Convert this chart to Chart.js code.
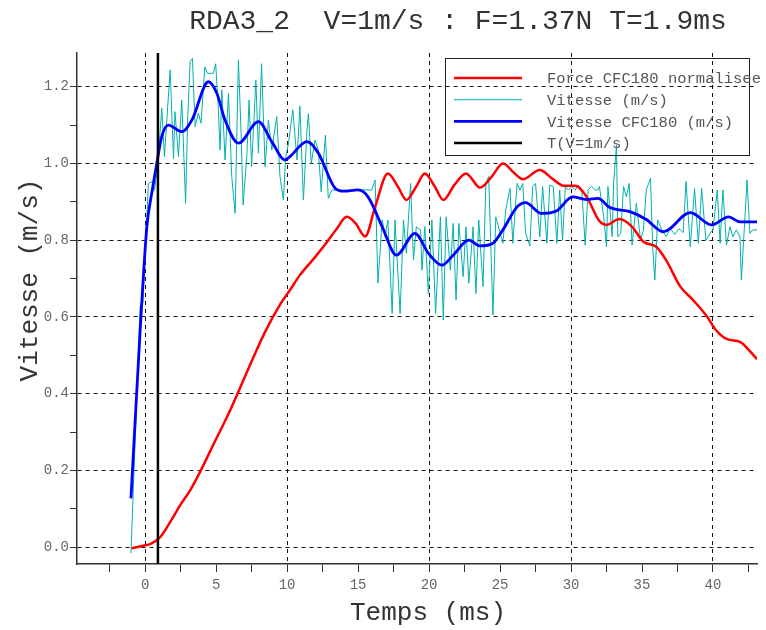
<!DOCTYPE html>
<html>
<head>
<meta charset="utf-8">
<title>RDA3_2</title>
<script src="https://cdn.jsdelivr.net/npm/chart.js@4"></script>
<style>
  body { margin: 0; background: #fff; }
  canvas { display: block; }
</style>
</head>
<body>
<canvas id="vitesseChart" width="766" height="630"></canvas>
<script>
const titleText = 'RDA3_2  V=1m/s : F=1.37N T=1.9ms';
const xTitle = 'Temps (ms)';
const yTitle = 'Vitesse (m/s)';
const seriesLabels = ['Force CFC180 normalisee', 'Vitesse (m/s)', 'Vitesse CFC180 (m/s)', 'T(V=1m/s)'];

const forceT = [-0.95, 0, 0.35, 1.06, 1.76, 2.46, 3.17, 3.87, 4.79, 5.99, 7.39, 8.45, 9.5, 10.2, 10.9, 11.97, 12.7, 13.5, 14.2, 14.8, 15.5, 16.2, 17.1, 17.8, 18.4, 19.1, 19.7, 20.4, 21.0, 21.8, 22.6, 23.6, 24.4, 25.2, 26.0, 26.6, 27.8, 28.7, 29.5, 30.3, 31.1, 32.0, 32.5, 33.4, 34.3, 35.1, 36.0, 36.7, 37.7, 38.6, 39.6, 40.2, 41.0, 41.9, 42.5, 43.1];
const forceV = [-0.003, 0.005, 0.008, 0.026, 0.065, 0.109, 0.148, 0.196, 0.266, 0.357, 0.475, 0.561, 0.632, 0.67, 0.709, 0.756, 0.79, 0.83, 0.861, 0.845, 0.81, 0.887, 0.974, 0.94, 0.905, 0.94, 0.974, 0.94, 0.905, 0.945, 0.974, 0.937, 0.965, 1.0, 0.975, 0.959, 0.983, 0.96, 0.942, 0.942, 0.913, 0.85, 0.84, 0.855, 0.835, 0.796, 0.783, 0.748, 0.679, 0.644, 0.6, 0.566, 0.542, 0.535, 0.515, 0.49];

const rawT = [-1.0, -0.35, -0.16, 0.23, 0.47, 0.66, 0.9, 1.17, 1.36, 1.76, 2.0, 2.1, 2.35, 2.58, 2.85, 3.0, 3.17, 3.33, 3.52, 3.75, 3.94, 4.2, 4.4, 4.8, 4.97, 5.16, 5.28, 5.4, 5.63, 5.87, 6.1, 6.34, 6.57, 6.76, 6.9, 7.16, 7.32, 7.5, 7.8, 7.98, 8.2, 8.45, 8.68, 8.92, 9.27, 9.5, 9.74, 9.9, 10.1, 10.4, 10.7, 10.9, 11.15, 11.4, 11.5, 11.7, 11.97, 12.2, 12.4, 12.7, 12.9, 13.15, 14.0, 15.0, 15.96, 16.2, 16.4, 16.7, 16.9, 17.1, 17.4, 17.6, 17.96, 18.2, 18.4, 18.7, 18.9, 19.1, 19.4, 19.5, 19.7, 19.95, 20.2, 20.46, 20.8, 21.0, 21.2, 21.5, 21.7, 21.9, 22.1, 22.4, 22.6, 22.8, 23.1, 23.3, 23.5, 23.8, 24.0, 24.2, 24.5, 24.7, 24.95, 25.2, 25.4, 25.7, 25.9, 26.2, 26.4, 26.6, 26.8, 27.1, 27.3, 27.5, 27.8, 28.0, 28.3, 28.5, 28.75, 29.0, 29.2, 29.4, 29.6, 29.8, 30.05, 30.3, 30.5, 30.75, 31.0, 31.2, 31.45, 31.7, 31.9, 32.0, 32.3, 32.5, 32.6, 32.9, 33.0, 33.2, 33.3, 33.5, 33.7, 33.9, 34.1, 34.3, 34.6, 34.9, 35.1, 35.3, 35.6, 35.75, 35.9, 36.1, 36.4, 36.7, 37.0, 37.3, 37.6, 37.9, 38.1, 38.4, 38.7, 38.97, 39.2, 39.5, 39.8, 40.0, 40.3, 40.5, 40.7, 40.95, 41.2, 41.4, 41.65, 41.9, 42.0, 42.2, 42.4, 42.6, 42.8, 43.1];
const rawV = [-0.016, 0.63, 0.636, 0.948, 0.953, 0.93, 1.0, 1.144, 1.018, 1.244, 1.013, 1.135, 1.018, 1.165, 0.896, 1.122, 1.266, 1.274, 1.096, 1.131, 1.105, 1.252, 1.235, 1.235, 1.26, 1.14, 1.035, 1.192, 1.009, 1.183, 0.966, 0.87, 1.27, 1.079, 0.892, 1.018, 1.165, 0.992, 1.217, 1.027, 1.26, 0.992, 1.113, 1.035, 1.122, 0.966, 0.905, 1.018, 1.053, 1.14, 1.009, 1.15, 0.905, 1.087, 1.13, 1.0, 1.061, 1.035, 0.926, 1.074, 0.909, 0.931, 0.93, 0.931, 0.931, 0.957, 0.688, 0.853, 0.809, 0.853, 0.609, 0.853, 0.609, 0.853, 0.766, 0.948, 0.748, 0.835, 0.827, 0.722, 0.835, 0.661, 0.853, 0.609, 0.861, 0.592, 0.861, 0.722, 0.844, 0.644, 0.844, 0.705, 0.835, 0.688, 0.835, 0.661, 0.853, 0.679, 0.948, 0.966, 0.605, 0.861, 0.827, 0.792, 0.879, 0.935, 0.792, 0.948, 0.931, 0.948, 0.818, 0.785, 0.94, 0.948, 0.809, 0.94, 0.792, 0.944, 0.94, 0.792, 0.931, 0.8, 0.94, 0.931, 0.94, 0.931, 0.944, 0.931, 0.787, 0.931, 0.94, 0.931, 0.931, 0.94, 0.861, 0.783, 0.94, 0.809, 0.948, 1.048, 0.809, 0.818, 0.94, 0.913, 0.948, 0.787, 0.896, 0.8, 0.827, 0.931, 0.961, 0.783, 0.696, 0.853, 0.827, 0.81, 0.83, 0.815, 0.83, 0.82, 0.953, 0.783, 0.935, 0.792, 0.935, 0.8, 0.818, 0.827, 0.931, 0.792, 0.931, 0.787, 0.835, 0.809, 0.827, 0.809, 0.696, 0.827, 0.957, 0.818, 0.827, 0.827];

const filtT = [-1.0, -0.35, 0.12, 0.5, 0.82, 1.17, 1.64, 2.58, 3.29, 4.46, 5.05, 5.63, 6.57, 7.98, 8.92, 9.86, 10.2, 11.4, 12.2, 13.4, 14.0, 15.0, 15.7, 16.7, 17.7, 19.0, 19.95, 20.9, 21.7, 22.8, 23.6, 24.5, 25.2, 26.2, 26.8, 27.9, 29.0, 30.1, 31.1, 31.9, 32.7, 34.2, 35.3, 36.5, 38.4, 39.9, 41.1, 41.9, 43.1];
const filtV = [0.127, 0.566, 0.835, 0.93, 1.0, 1.07, 1.1, 1.083, 1.113, 1.213, 1.183, 1.113, 1.053, 1.109, 1.057, 1.009, 1.018, 1.057, 1.027, 0.935, 0.928, 0.931, 0.913, 0.835, 0.761, 0.818, 0.766, 0.735, 0.761, 0.8, 0.785, 0.792, 0.827, 0.887, 0.898, 0.87, 0.877, 0.913, 0.906, 0.909, 0.886, 0.874, 0.854, 0.822, 0.872, 0.84, 0.861, 0.848, 0.848];

const markT = 0.9;
const xMin = -4.8, xMax = 43.1;
const yMin = -0.044, yMax = 1.288;

function pts(ts, vs) {
    return ts.map(function (t, i) { return { x: t, y: vs[i] }; });
}

const FONT = '"Liberation Mono", "DejaVu Sans Mono", monospace';

const overlay = {
    id: 'overlay',
    afterDraw(chart) {
        const c = chart.ctx;
        const a = chart.chartArea;
        c.save();
        c.fillStyle = '#333';
        c.textAlign = 'center';
        c.textBaseline = 'middle';
        c.font = '28px ' + FONT;
        c.fillText(titleText, 458, 22);
        c.font = '26px ' + FONT;
        c.fillText(xTitle, 428, 613);
        c.translate(30, 280);
        c.rotate(-Math.PI / 2);
        c.fillText(yTitle, 0, 0);
        c.restore();

        // legend box, no fill so the grid shows through
        const left = a.right - 312, top = a.top + 5;
        c.save();
        c.strokeStyle = '#222';
        c.lineWidth = 1;
        c.strokeRect(left + 0.5, top + 0.5, 304, 97);
        c.font = '15.5px ' + FONT;
        c.textAlign = 'left';
        c.textBaseline = 'middle';
        chart.data.datasets.forEach(function (ds, i) {
            const y = top + 20 + i * 21.7;
            c.beginPath();
            c.strokeStyle = ds.borderColor;
            c.lineWidth = ds.borderWidth;
            c.moveTo(left + 9, y);
            c.lineTo(left + 77, y);
            c.stroke();
            c.fillStyle = '#555';
            c.fillText(ds.label, left + 102, y + 1);
        });
        c.restore();
    }
};

document.addEventListener('DOMContentLoaded', function () {
    const ctx = document.getElementById('vitesseChart');
    if (!ctx) return;

    new Chart(ctx, {
        type: 'line',
        data: {
            datasets: [{
                label: seriesLabels[0],
                data: pts(forceT, forceV),
                borderColor: '#ff0000',
                borderWidth: 2.5,
                cubicInterpolationMode: 'monotone',
                order: 2
            }, {
                label: seriesLabels[1],
                data: pts(rawT, rawV),
                borderColor: '#00b0b0',
                borderWidth: 1,
                tension: 0,
                order: 3
            }, {
                label: seriesLabels[2],
                data: pts(filtT, filtV),
                borderColor: '#0000ff',
                borderWidth: 2.8,
                cubicInterpolationMode: 'monotone',
                order: 1
            }, {
                label: seriesLabels[3],
                data: pts([markT, markT], [yMin, yMax]),
                borderColor: '#000000',
                borderWidth: 2.5,
                tension: 0,
                order: 0
            }]
        },
        options: {
            responsive: false,
            animation: false,
            parsing: true,
            elements: { point: { radius: 0 } },
            layout: { padding: { top: 53, right: 9, left: 0, bottom: 0 } },
            plugins: {
                legend: { display: false },
                title: { display: false },
                tooltip: { enabled: false }
            },
            scales: {
                x: {
                    type: 'linear',
                    min: xMin,
                    max: xMax,
                    afterFit: function (s) { s.height = 66; },
                    border: { display: true, color: '#333', width: 1.5, dash: [4, 4] },
                    grid: {
                        color: function (c) { return Math.abs(c.tick.value % 10) < 1e-6 ? '#111' : 'transparent'; },
                        tickColor: '#333',
                        tickLength: 8,
                        lineWidth: 1
                    },
                    ticks: {
                        stepSize: 2.5,
                        includeBounds: false,
                        autoSkip: false,
                        maxRotation: 0,
                        padding: 5,
                        color: '#666',
                        font: { family: FONT, size: 14 },
                        callback: function (v) { return Math.abs(v % 5) < 1e-6 ? String(v) : ''; }
                    }
                },
                y: {
                    type: 'linear',
                    min: yMin,
                    max: yMax,
                    afterFit: function (s) { s.width = 77; },
                    border: { display: true, color: '#333', width: 1.5, dash: [4, 4] },
                    grid: {
                        color: function (c) { return Math.round(c.tick.value * 10) % 2 === 0 ? '#111' : 'transparent'; },
                        tickColor: '#333',
                        tickLength: 7,
                        lineWidth: 1
                    },
                    ticks: {
                        stepSize: 0.1,
                        includeBounds: false,
                        autoSkip: false,
                        padding: 1,
                        color: '#666',
                        font: { family: FONT, size: 14 },
                        callback: function (v) { return Math.round(v * 10) % 2 === 0 ? v.toFixed(1) : ''; }
                    }
                }
            }
        },
        plugins: [overlay]
    });
});
</script>
</body>
</html>
